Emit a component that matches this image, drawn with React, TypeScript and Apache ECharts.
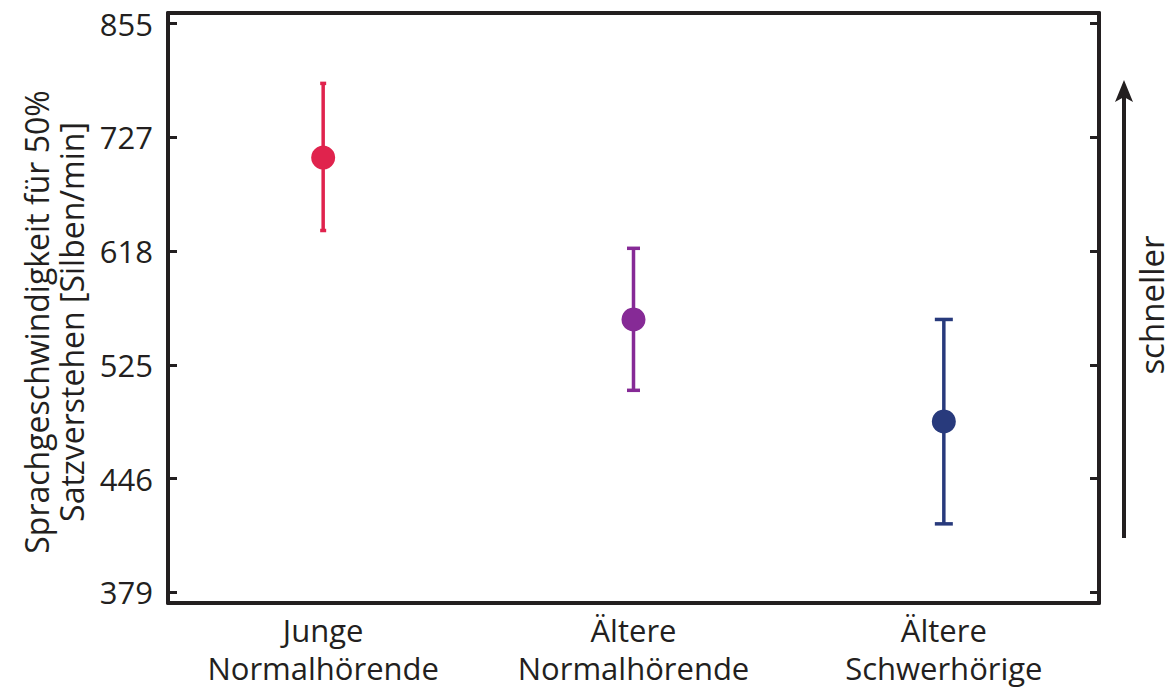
import React, { useEffect, useRef } from "react";
import * as echarts from "echarts";

const categories = ["Junge\nNormalhörende", "Ältere\nNormalhörende", "Ältere\nSchwerhörige"];
const means = [706, 560, 484];
const upper = [785, 620, 560];
const lower = [636, 506, 418];
const tickLabels = [379, 446, 525, 618, 727, 855];
const yTitle = "Sprachgeschwindigkeit für 50%\nSatzverstehen [Silben/min]";
const arrowText = "schneller";
const colors = ["#e0234d", "#862a96", "#283a7c"];
const capHalf = [3, 6.5, 9];

const V0 = tickLabels[0];
const VN = tickLabels[tickLabels.length - 1];
const STEPS = tickLabels.length - 1;
const t = (v: number) => (Math.log(v / V0) / Math.log(VN / V0)) * STEPS;
const tickIdx = tickLabels.map((_, i) => i);

const FONT = "'Open Sans', sans-serif";
const DARK = "#231f20";

export default function App() {
  const ref = useRef<HTMLDivElement>(null);
  useEffect(() => {
    if (!ref.current) return;
    const chart = echarts.init(ref.current, undefined, { renderer: "svg" });
    const errData = categories.map((_, i) => [i, t(lower[i]), t(upper[i]), capHalf[i]]);
    const meanData = categories.map((_, i) => ({
      value: [i, t(means[i])],
      itemStyle: { color: colors[i], opacity: 1 },
    }));
    chart.setOption({
      animation: false,
      backgroundColor: "#ffffff",
      grid: { left: 168, right: 74, top: 13, bottom: 92 },
      xAxis: [
        {
          type: "category",
          data: categories,
          position: "bottom",
          boundaryGap: true,
          axisLine: { onZero: false, lineStyle: { color: DARK, width: 4 } },
          axisTick: { inside: true, alignWithLabel: true, length: 9, lineStyle: { color: DARK, width: 3 } },
          axisLabel: { interval: 0, color: DARK, fontFamily: FONT, fontSize: 31, lineHeight: 38, margin: 8 },
          splitLine: { show: false },
        },
        {
          type: "category",
          data: categories,
          position: "top",
          boundaryGap: true,
          axisLine: { onZero: false, lineStyle: { color: DARK, width: 4 } },
          axisTick: { inside: true, alignWithLabel: true, length: 9, lineStyle: { color: DARK, width: 3 } },
          axisLabel: { show: false },
          splitLine: { show: false },
        },
      ],
      yAxis: [
        {
          type: "value",
          position: "left",
          min: -0.094,
          max: STEPS + 0.094,
          axisLine: { show: true, onZero: false, lineStyle: { color: DARK, width: 4 } },
          axisTick: { show: true, inside: true, length: 9, customValues: tickIdx, lineStyle: { color: DARK, width: 3 } },
          axisLabel: {
            customValues: tickIdx,
            color: DARK,
            fontFamily: FONT,
            fontSize: 31,
            margin: 15,
            formatter: (v: number) => String(tickLabels[Math.round(v)]),
          },
          splitLine: { show: false },
        },
        {
          type: "value",
          position: "right",
          min: -0.094,
          max: STEPS + 0.094,
          axisLine: { show: true, onZero: false, lineStyle: { color: DARK, width: 4 } },
          axisTick: { show: true, inside: true, length: 9, customValues: tickIdx, lineStyle: { color: DARK, width: 3 } },
          axisLabel: { show: false },
          splitLine: { show: false },
        },
      ],
      series: [
        {
          type: "custom",
          xAxisIndex: 0,
          yAxisIndex: 0,
          data: errData,
          renderItem: (params: any, api: any) => {
            const i = api.value(0);
            const lo = api.coord([i, api.value(1)]);
            const hi = api.coord([i, api.value(2)]);
            const h = api.value(3);
            const c = colors[params.dataIndex];
            const style = { stroke: c, lineWidth: 3.5 };
            return {
              type: "group",
              children: [
                { type: "line", shape: { x1: lo[0], y1: lo[1], x2: hi[0], y2: hi[1] }, style },
                { type: "line", shape: { x1: hi[0] - h, y1: hi[1], x2: hi[0] + h, y2: hi[1] }, style },
                { type: "line", shape: { x1: lo[0] - h, y1: lo[1], x2: lo[0] + h, y2: lo[1] }, style },
              ],
            };
          },
          z: 2,
        },
        {
          type: "scatter",
          xAxisIndex: 0,
          yAxisIndex: 0,
          symbol: "circle",
          symbolSize: 24,
          data: meanData,
          z: 3,
        },
      ],
      graphic: [
        {
          type: "text",
          x: 54,
          y: 322,
          rotation: Math.PI / 2,
          style: {
            text: yTitle,
            fill: DARK,
            font: `32px ${FONT}`,
            lineHeight: 35,
            align: "center",
            verticalAlign: "middle",
          },
        },
        {
          type: "line",
          shape: { x1: 1124, y1: 538, x2: 1124, y2: 96 },
          style: { stroke: DARK, lineWidth: 4 },
        },
        {
          type: "polygon",
          shape: { points: [[1124, 80], [1133, 102], [1124, 97], [1115, 102]] },
          style: { fill: DARK },
        },
        {
          type: "text",
          x: 1151,
          y: 305,
          rotation: Math.PI / 2,
          style: {
            text: arrowText,
            fill: DARK,
            font: `33px ${FONT}`,
            align: "center",
            verticalAlign: "middle",
          },
        },
      ],
    });
    return () => chart.dispose();
  }, []);
  return (
    <div
      ref={ref}
      style={{ position: "fixed", left: 0, top: 0, width: 1173, height: 695, background: "#fff" }}
    />
  );
}
